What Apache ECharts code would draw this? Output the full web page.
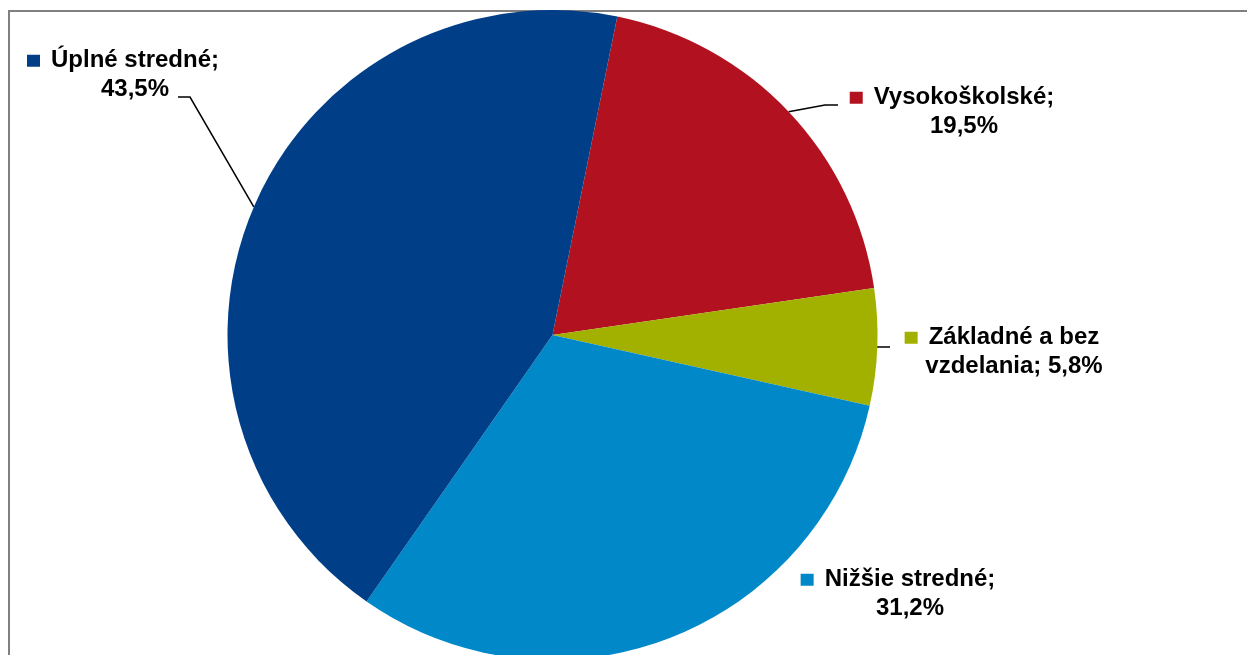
<!DOCTYPE html>
<html>
<head>
<meta charset="utf-8">
<title>Vzdelanie</title>
<script src="https://cdn.jsdelivr.net/npm/echarts@6/dist/echarts.min.js"></script>
<style>
  html, body { margin: 0; padding: 0; background: #fff; overflow: hidden; }
  #chart { width: 1247px; height: 655px; }
</style>
</head>
<body>
<div id="chart"></div>
<script>
// data, clockwise from the slice just right of the top
const categories = ["Vysokoškolské", "Základné a bez vzdelania", "Nižšie stredné", "Úplné stredné"];
const shares = [19.5, 5.8, 31.2, 43.5];
const colors = ["#B2121F", "#A2B000", "#0088C9", "#003F87"];

// where each label sits, and the elbow/end of its leader line
const labelSpots = [
  { x: 964, y: 112, line: [[825, 105], [838, 105]] },
  { x: 1014, y: 352, line: [[877, 347], [890, 347]] },
  { x: 910, y: 594, line: null },
  { x: 135, y: 75, line: [[190, 97], [178, 97]] }
];

const fmt = (v) => v.toFixed(1).replace(".", ",") + "%";

// split "name; value" into two lines like the original
const labelLines = (name, value) => {
  const full = name + "; " + fmt(value);
  if (name.length <= 16) return [name + ";", fmt(value)];
  const cut = full.lastIndexOf(" ", 15);
  return [full.slice(0, cut), full.slice(cut + 1)];
};

const textStyle = {
  fontFamily: "Liberation Sans, Arial, sans-serif",
  fontWeight: "bold",
  fontSize: 24,
  color: "#000",
  lineHeight: 28.5,
  align: "center"
};

const rich = {
  t: textStyle,
  gap: { width: 11, align: "center" },
  pad: { width: 24, align: "center" }
};
colors.forEach((c, i) => {
  rich["sq" + i] = { width: 13, height: 12, backgroundColor: c, align: "center", fontSize: 1 };
});

const chart = echarts.init(document.getElementById("chart"));
chart.setOption({
  animation: false,
  backgroundColor: "#fff",
  graphic: [
    {
      type: "rect",
      z: 0,
      shape: { x: 9, y: 11, width: 1400, height: 800 },
      style: { fill: "none", stroke: "#808080", lineWidth: 2 }
    }
  ],
  series: [
    {
      type: "pie",
      z: 2,
      center: [552.5, 335],
      radius: 325,
      startAngle: 78.5,
      clockwise: true,
      avoidLabelOverlap: false,
      data: categories.map((name, i) => ({
        name: name,
        value: shares[i],
        itemStyle: { color: colors[i] },
        labelLine: { show: !!labelSpots[i].line }
      })),
      label: {
        show: true,
        position: "outside",
        align: "center",
        formatter: (p) => {
          const [l1, l2] = labelLines(p.name, p.value);
          return "{sq" + p.dataIndex + "| }{gap| }{t|" + l1 + "}{pad| }\n{t|" + l2 + "}";
        },
        rich: rich
      },
      labelLine: {
        show: true,
        lineStyle: { color: "#000", width: 1.5 }
      },
      labelLayout: (params) => {
        const spot = labelSpots[params.dataIndex];
        const out = { x: spot.x, y: spot.y, align: "center", verticalAlign: "middle", hideOverlap: false };
        if (spot.line && params.labelLinePoints) {
          out.labelLinePoints = [params.labelLinePoints[0], spot.line[0], spot.line[1]];
        }
        return out;
      },
      emphasis: { disabled: true }
    }
  ]
});
</script>
</body>
</html>
